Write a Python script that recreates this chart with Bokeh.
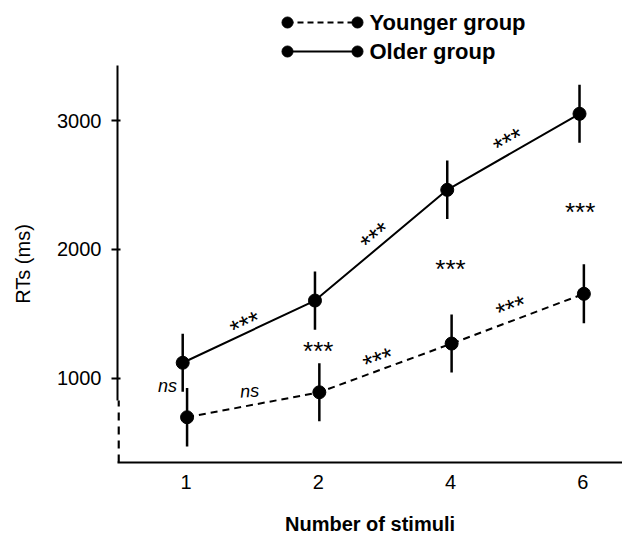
import numpy as np
from bokeh.plotting import figure
from bokeh.layouts import column
from bokeh.models import Range1d, FixedTicker, ColumnDataSource
from bokeh.core.properties import value
from bokeh.embed import file_html
from bokeh.resources import INLINE

# ---------------- data ----------------
stimuli_labels = ["1", "2", "4", "6"]
older_rt = [1120, 1603, 2462, 3052]
older_err = [225, 226, 227, 225]
younger_rt = [697, 891, 1269, 1655]
younger_err = [227, 225, 225, 229]

# significance annotations (category index position, RT value, rotation in degrees)
star_x = [0.45, 1.435, 2.44, 1.455, 2.46, 1.0, 2.0, 2.98]
star_y = [1415, 2097, 2835, 1140, 1543, 1208, 1845, 2288]
star_angle = [24.8, 40.3, 29.3, 20.0, 20.7, 0, 0, 0]
ns_x = [-0.14, 0.48]
ns_y = [938, 900]
ns_angle = [0, 4]

legend_labels = ["Younger group", "Older group"]

FONT = "Liberation Sans"

# ---------------- main figure ----------------
W = 622
LEFT = 117
x_pos = np.arange(len(stimuli_labels))
x_start, x_end = -0.518, 3.30
y_start, y_end = 346, 3427

p = figure(width=W, height=474, output_backend="svg", toolbar_location=None,
           x_range=Range1d(x_start, x_end), y_range=Range1d(y_start, y_end),
           min_border_left=LEFT, min_border_right=0, min_border_top=0,
           min_border_bottom=77)
p.outline_line_color = None
p.grid.visible = False
p.background_fill_color = "white"
p.border_fill_color = "white"

older_x = x_pos - 0.025
younger_x = x_pos + 0.008
older = np.array(older_rt)
younger = np.array(younger_rt)
oerr = np.array(older_err)
yerr = np.array(younger_err)

# error bars
p.segment(older_x, older - oerr, older_x, older + oerr, line_color="black", line_width=2.5)
p.segment(younger_x, younger - yerr, younger_x, younger + yerr, line_color="black", line_width=2.5)
# lines
p.line(older_x, older, line_color="black", line_width=2)
p.line(younger_x, younger, line_color="black", line_width=2, line_dash="7 5")
# markers
p.scatter(older_x, older, size=13, fill_color="black", line_color="black")
p.scatter(younger_x, younger, size=13, fill_color="black", line_color="black")

# significance labels
src_star = ColumnDataSource(dict(x=star_x, y=star_y, t=["***"] * len(star_x),
                                 a=[np.deg2rad(v) for v in star_angle]))
p.text(x="x", y="y", text="t", angle="a", source=src_star, text_font=value(FONT),
       text_font_size="26px", text_align="center", text_baseline="middle",
       text_color="black")
src_ns = ColumnDataSource(dict(x=ns_x, y=ns_y, t=["ns"] * len(ns_x),
                               a=[np.deg2rad(v) for v in ns_angle]))
p.text(x="x", y="y", text="t", angle="a", source=src_ns, text_font=value(FONT),
       text_font_size="18px", text_font_style="italic", text_align="center",
       text_baseline="middle", text_color="black")

# dashed part of the broken y axis
p.segment([x_start + 0.008], [y_start], [x_start + 0.008], [827],
          line_color="black", line_width=2.5, line_dash="8 6")

# axes
p.yaxis.ticker = FixedTicker(ticks=[1000, 2000, 3000])
p.yaxis.bounds = (827, y_end)
p.yaxis.axis_line_width = 2
p.yaxis.major_tick_line_width = 2
p.yaxis.major_tick_in = 3
p.yaxis.major_tick_out = 6
p.yaxis.minor_tick_line_color = None
p.yaxis.major_label_standoff = 10
p.yaxis.major_label_text_font = FONT
p.yaxis.major_label_text_font_size = "20px"
p.yaxis.major_label_text_color = "black"
p.yaxis.axis_label = "RTs (ms)"
p.yaxis.axis_label_text_font = FONT
p.yaxis.axis_label_text_font_size = "20px"
p.yaxis.axis_label_text_font_style = "normal"
p.yaxis.axis_label_text_color = "black"
p.yaxis.axis_label_standoff = 20

p.xaxis.ticker = FixedTicker(ticks=list(x_pos))
p.xaxis.major_label_overrides = {int(i): s for i, s in zip(x_pos, stimuli_labels)}
p.xaxis.axis_line_width = 2
p.xaxis.major_tick_in = 0
p.xaxis.major_tick_out = 0
p.xaxis.minor_tick_line_color = None
p.xaxis.major_label_standoff = 12
p.xaxis.major_label_text_font = FONT
p.xaxis.major_label_text_font_size = "20px"
p.xaxis.major_label_text_color = "black"
p.xaxis.axis_label = "Number of stimuli"
p.xaxis.axis_label_text_font = FONT
p.xaxis.axis_label_text_font_size = "20px"
p.xaxis.axis_label_text_font_style = "bold"
p.xaxis.axis_label_text_color = "black"
p.xaxis.axis_label_standoff = 21

# ---------------- legend figure (pixel coordinates of the page) ----------------
lg = figure(width=W, height=65, output_backend="svg", toolbar_location=None,
            x_range=Range1d(LEFT, W), y_range=Range1d(65, 0),
            x_axis_type=None, y_axis_type=None,
            min_border_left=LEFT, min_border_right=0, min_border_top=0,
            min_border_bottom=0)
lg.outline_line_color = None
lg.grid.visible = False
row_y = [22, 51]
dashes = ["6 4", "solid"]
for yy, dash, lab in zip(row_y, dashes, legend_labels):
    lg.line([287, 357], [yy, yy], line_color="black", line_width=2, line_dash=dash)
    lg.scatter([287, 357], [yy, yy], size=11, fill_color="black", line_color="black")
    lg.text([369], [yy], text=[lab], text_font=value(FONT), text_font_size="22px",
            text_font_style="bold", text_align="left", text_baseline="middle",
            text_color="black")

layout = column(lg, p, spacing=0)
open("out.html", "w").write(file_html(layout, INLINE))
